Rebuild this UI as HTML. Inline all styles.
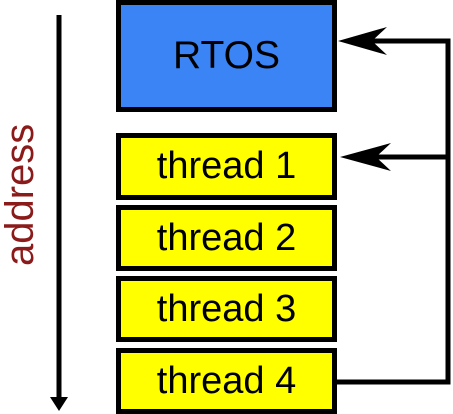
<!DOCTYPE html>
<html><head><style>
body{margin:0;width:453px;height:414px;background:#fff;overflow:hidden;position:relative;font-family:"Liberation Sans",Arial,sans-serif}
.b{position:absolute;left:116px;width:211px;border:5px solid #000;display:flex;align-items:center;justify-content:center;font-size:38px;color:#000}
.y{background:#ffff00}
</style></head><body>
<div class="b" style="top:0;height:102px;background:#3b84f5;font-size:39px">RTOS</div>
<div class="b y" style="top:133px;height:57px">thread 1</div>
<div class="b y" style="top:205px;height:56px">thread 2</div>
<div class="b y" style="top:276px;height:56px">thread 3</div>
<div class="b y" style="top:348px;height:56px">thread 4</div>
<svg width="453" height="414" style="position:absolute;left:0;top:0">
<line x1="59" y1="15" x2="59" y2="400" stroke="#000" stroke-width="5"/>
<polygon points="50,397 68,397 59,411" fill="#000"/>
<text transform="translate(33,266) rotate(-90)" font-family="Liberation Sans,Arial,sans-serif" font-size="40" fill="#8b1a1a">address</text>
<polyline points="337,382 448,382 448,41 360,41" fill="none" stroke="#000" stroke-width="5"/>
<line x1="448" y1="157" x2="360" y2="157" stroke="#000" stroke-width="5"/>
<polygon points="338,41 387,27 372,41 387,55" fill="#000"/>
<polygon points="340,157 391,143 376,157 391,171" fill="#000"/>
</svg>
</body></html>
